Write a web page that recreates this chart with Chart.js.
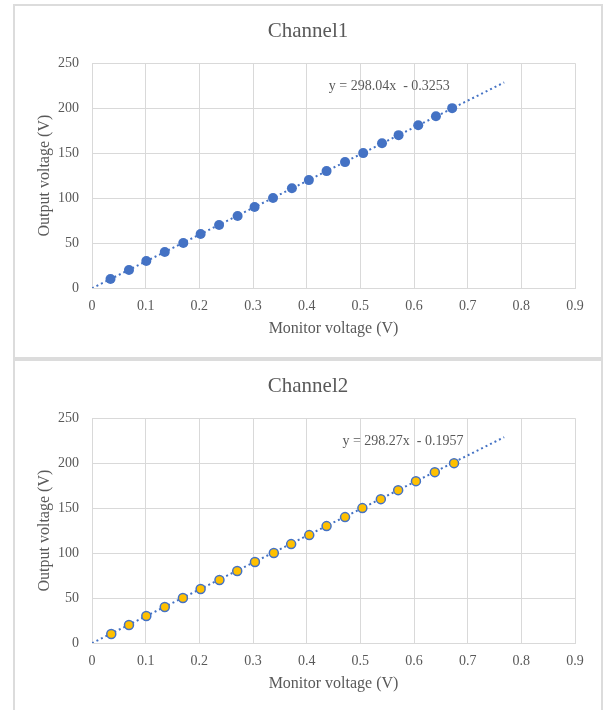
<!DOCTYPE html>
<html>
<head>
<meta charset="utf-8">
<script src="https://cdn.jsdelivr.net/npm/chart.js@4/dist/chart.umd.min.js"></script>
<style>
    html, body { margin: 0; padding: 0; background: #ffffff; overflow: hidden; }
    body { width: 604px; height: 710px; position: relative; }
    .box { position: absolute; left: 13px; width: 586px; height: 351px; border: 2px solid #dcdcdc; background: #fff; }
    .box canvas { position: absolute; left: 0; top: 0; }
</style>
</head>
<body>
<div class="box" style="top:4px;"><canvas id="chart1" width="586" height="351"></canvas></div>
<div class="box" style="top:359px;"><canvas id="chart2" width="586" height="351"></canvas></div>
<script>
// axis ticks
var xTickValues = [0, 0.1, 0.2, 0.3, 0.4, 0.5, 0.6, 0.7, 0.8, 0.9];
var yTickValues = [0, 50, 100, 150, 200, 250];

// Channel1 measurements
var ch1X = [0.0345, 0.0689, 0.1012, 0.1356, 0.1701, 0.2024, 0.2368, 0.2713, 0.3029, 0.3373,
            0.3725, 0.4041, 0.4371, 0.4715, 0.5053, 0.5404, 0.5713, 0.6079, 0.6409, 0.6711];
var ch1Y = [10, 20, 30, 40, 50, 60, 70, 80, 90, 100, 111, 120, 130, 140, 150, 161, 170, 181, 191, 200];
var trend1X = [0, 0.768];
var trend1Y = [-0.33, 228.6];
var eq1 = 'y = 298.04x  - 0.3253';

// Channel2 measurements
var ch2X = [0.0359, 0.0689, 0.1012, 0.1356, 0.1694, 0.2024, 0.2375, 0.2706, 0.3036, 0.3388,
            0.3711, 0.4048, 0.4371, 0.4715, 0.5038, 0.5382, 0.5705, 0.6036, 0.6388, 0.6746];
var ch2Y = [10, 20, 30, 40, 50, 60, 70, 80, 90, 100, 110, 120, 130, 140, 150, 160, 170, 180, 190, 200];
var trend2X = [0, 0.768];
var trend2Y = [-0.2, 228.9];
var eq2 = 'y = 298.27x  - 0.1957';

var SERIF = "'Liberation Serif', 'Times New Roman', serif";
var TEXT = '#595959';
var GRID = '#d9d9d9';
var BLUE = '#4472c4';

function toPoints(xs, ys) {
    var pts = [];
    for (var i = 0; i < xs.length; i++) {
        pts.push({ x: xs[i], y: ys[i] });
    }
    return pts;
}

// draws the trendline equation, anchored in data units
var equationPlugin = {
    id: 'equation',
    afterDatasetsDraw: function(chart, args, opts) {
        var ctx = chart.ctx;
        var px = chart.scales.x.getPixelForValue(opts.x);
        var py = chart.scales.y.getPixelForValue(opts.y);
        ctx.save();
        ctx.font = '14px ' + SERIF;
        ctx.fillStyle = TEXT;
        ctx.textAlign = 'center';
        ctx.textBaseline = 'middle';
        ctx.fillText(opts.text, px, py);
        ctx.restore();
    }
};

function makeChart(id, title, xs, ys, tx, ty, eq, eqX, pointStyle) {
    var ctx = document.getElementById(id).getContext('2d');
    return new Chart(ctx, {
        type: 'scatter',
        data: {
            datasets: [
                {
                    label: 'trend',
                    data: toPoints(tx, ty),
                    showLine: true,
                    borderColor: BLUE,
                    borderWidth: 2,
                    borderDash: [2, 3],
                    pointRadius: 0,
                    order: 2
                },
                {
                    label: title,
                    data: toPoints(xs, ys),
                    pointRadius: pointStyle.radius,
                    backgroundColor: pointStyle.fill,
                    borderColor: BLUE,
                    borderWidth: pointStyle.border,
                    order: 1
                }
            ]
        },
        options: {
            responsive: false,
            animation: false,
            layout: { padding: 0 },
            plugins: {
                legend: { display: false },
                tooltip: { enabled: false },
                title: {
                    display: true,
                    text: title,
                    color: TEXT,
                    font: { family: SERIF, size: 21, weight: 'normal' },
                    padding: { top: 13, bottom: 19 }
                },
                equation: { text: eq, x: eqX, y: 224.4 }
            },
            scales: {
                x: {
                    type: 'linear',
                    min: 0,
                    max: 0.9,
                    afterBuildTicks: function(scale) {
                        scale.ticks = xTickValues.map(function(v) { return { value: v }; });
                    },
                    afterFit: function(scale) { scale.height = 69; },
                    grid: { color: GRID, drawTicks: false },
                    border: { color: GRID },
                    ticks: {
                        color: TEXT,
                        padding: 10,
                        font: { family: SERIF, size: 14 },
                        callback: function(value) {
                            return value === 0 ? '0' : value.toFixed(1);
                        }
                    },
                    title: {
                        display: true,
                        text: 'Monitor voltage (V)',
                        color: TEXT,
                        font: { family: SERIF, size: 16 },
                        padding: { top: 0, bottom: 19 }
                    }
                },
                y: {
                    type: 'linear',
                    min: 0,
                    max: 250,
                    afterBuildTicks: function(scale) {
                        scale.ticks = yTickValues.map(function(v) { return { value: v }; });
                    },
                    afterFit: function(scale) { scale.width = 77; },
                    grid: { color: GRID, drawTicks: false },
                    border: { color: GRID },
                    ticks: {
                        color: TEXT,
                        padding: 13,
                        font: { family: SERIF, size: 14 }
                    },
                    title: {
                        display: true,
                        text: 'Output voltage (V)',
                        color: TEXT,
                        font: { family: SERIF, size: 16 },
                        padding: { top: 20, bottom: 0 }
                    }
                },
                // empty right-hand margin so the title stays centred on the box
                spacer: {
                    type: 'linear',
                    position: 'right',
                    min: 0,
                    max: 1,
                    grid: { display: false },
                    border: { display: false },
                    ticks: { display: false },
                    afterFit: function(scale) { scale.width = 26; }
                }
            }
        },
        plugins: [equationPlugin]
    });
}

makeChart('chart1', 'Channel1', ch1X, ch1Y, trend1X, trend1Y, eq1, 0.554,
    { radius: 5, fill: BLUE, border: 0 });
makeChart('chart2', 'Channel2', ch2X, ch2Y, trend2X, trend2Y, eq2, 0.5795,
    { radius: 4.5, fill: '#ffc000', border: 1.5 });
</script>
</body>
</html>
